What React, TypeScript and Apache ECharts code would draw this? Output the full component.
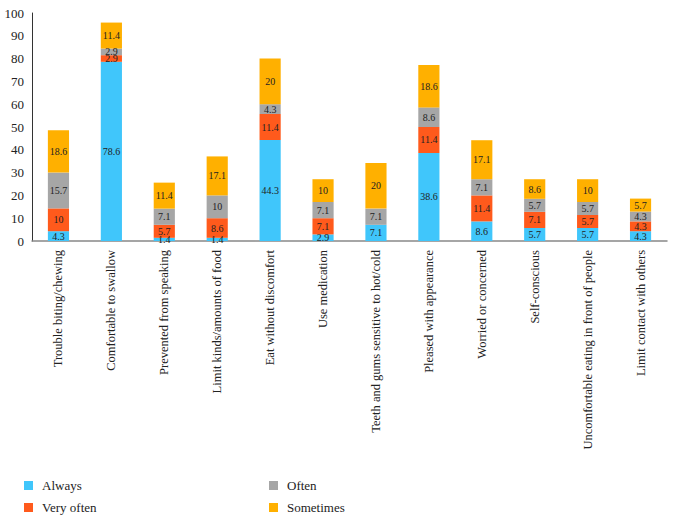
import React, { useEffect, useRef } from "react";
import * as echarts from "echarts";

const categories = [
  "Trouble biting/chewing",
  "Comfortable to swallow",
  "Prevented from speaking",
  "Limit kinds/amounts of food",
  "Eat without discomfort",
  "Use medication",
  "Teeth and gums sensitive to hot/cold",
  "Pleased with appearance",
  "Worried or concerned",
  "Self-conscious",
  "Uncomfortable eating in front of people",
  "Limit contact with others",
];
const always = [4.3, 78.6, 1.4, 1.4, 44.3, 2.9, 7.1, 38.6, 8.6, 5.7, 5.7, 4.3];
const veryOften = [10, 2.9, 5.7, 8.6, 11.4, 7.1, 0, 11.4, 11.4, 7.1, 5.7, 4.3];
const often = [15.7, 2.9, 7.1, 10, 4.3, 7.1, 7.1, 8.6, 7.1, 5.7, 5.7, 4.3];
const sometimes = [18.6, 11.4, 11.4, 17.1, 20, 10, 20, 18.6, 17.1, 8.6, 10, 5.7];
const yTicks = { min: 0, max: 100, interval: 10 };

const FONT = "Liberation Serif";

export default function App() {
  const ref = useRef<HTMLDivElement>(null);
  useEffect(() => {
    const chart = echarts.init(ref.current!, null, { renderer: "svg" });
    const mk = (name: string, data: number[], color: string) => ({
      name,
      type: "bar",
      stack: "total",
      data: data.map((v) => (v === 0 ? null : v)),
      barWidth: "40%",
      itemStyle: { color },
      label: {
        show: true,
        position: "inside",
        color: "#222",
        fontFamily: FONT,
        fontSize: 10,
      },
    });
    const legendText = { fontFamily: FONT, fontSize: 13, color: "#222", padding: [0, 0, 0, 4] };
    chart.setOption({
      animation: false,
      textStyle: { fontFamily: FONT },
      grid: { left: 32, right: 9, top: 13, bottom: 282, containLabel: false },
      legend: [
        {
          data: ["Always", "Very often"],
          orient: "vertical",
          left: 19,
          top: 474,
          itemWidth: 9,
          itemHeight: 9,
          itemGap: 9,
          icon: "rect",
          textStyle: legendText,
        },
        {
          data: ["Often", "Sometimes"],
          orient: "vertical",
          left: 264,
          top: 474,
          itemWidth: 9,
          itemHeight: 9,
          itemGap: 9,
          icon: "rect",
          textStyle: legendText,
        },
      ],
      xAxis: {
        type: "category",
        data: categories,
        axisLine: { lineStyle: { color: "#888", width: 1.5 } },
        axisTick: { show: false },
        axisLabel: {
          rotate: 90,
          interval: 0,
          margin: 9,
          color: "#222",
          fontFamily: FONT,
          fontSize: 12.5,
        },
      },
      yAxis: {
        type: "value",
        min: yTicks.min,
        max: yTicks.max,
        interval: yTicks.interval,
        splitLine: { show: false },
        axisLine: { show: true, lineStyle: { color: "#333", width: 1 } },
        axisTick: { show: false },
        axisLabel: { color: "#222", fontFamily: FONT, fontSize: 13, margin: 8 },
      },
      series: [
        mk("Always", always, "#40C6FB"),
        mk("Very often", veryOften, "#FF5A1C"),
        mk("Often", often, "#A6A6A6"),
        mk("Sometimes", sometimes, "#FFB000"),
      ],
    });
    return () => chart.dispose();
  }, []);
  return <div ref={ref} style={{ width: 676, height: 523, position: "absolute", left: 0, top: 0, background: "#fff" }} />;
}
